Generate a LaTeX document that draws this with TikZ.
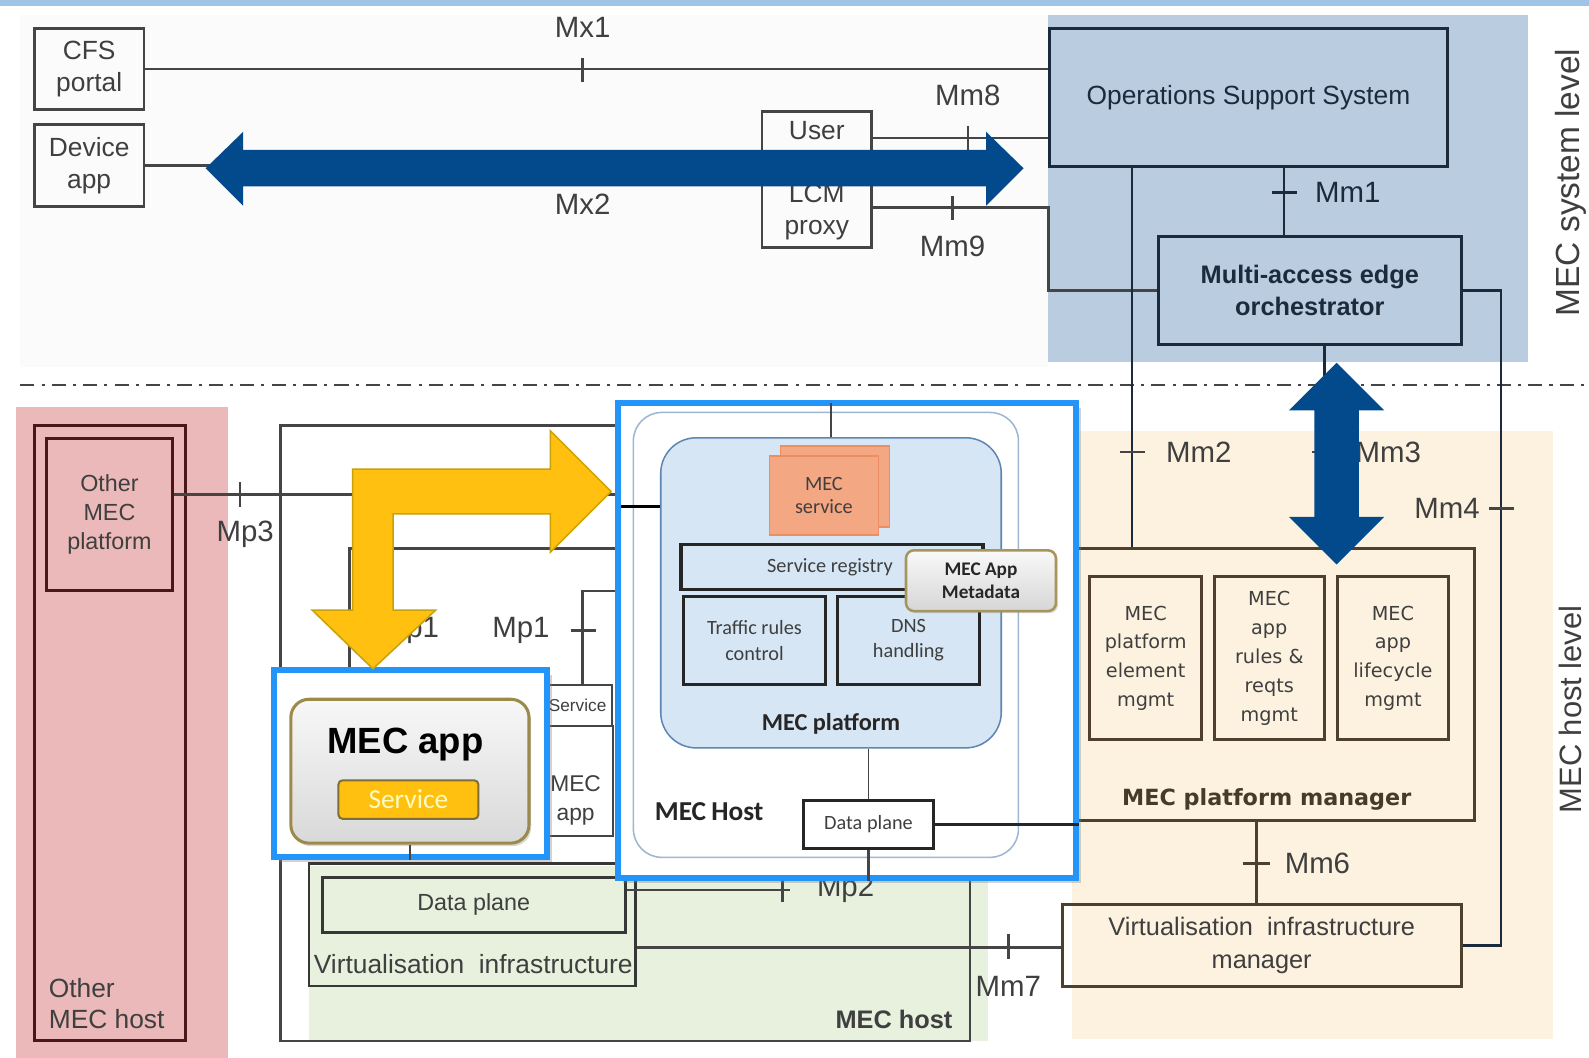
\documentclass[tikz,border=0pt]{standalone}
\usepackage{fontspec}
\setmainfont{Liberation Sans}
\newfontfamily\carl{Carlito}
\newfontfamily\dejavu{DejaVu Sans}
\usetikzlibrary{shadows}
\definecolor{txt}{HTML}{3F3F3F}
\definecolor{ln}{HTML}{454545}
\definecolor{navy}{HTML}{1C2B3B}
\definecolor{sysbg}{HTML}{B9CCE0}
\definecolor{pinkbg}{HTML}{EBB9BA}
\definecolor{greenbg}{HTML}{E7F1DE}
\definecolor{beigebg}{HTML}{FDF2DF}
\definecolor{arrowblue}{HTML}{024A8C}
\definecolor{hlblue}{HTML}{2394F8}
\definecolor{yel}{HTML}{FFC00F}
\definecolor{yeld}{HTML}{C9A10A}
\definecolor{platbg}{HTML}{D6E6F5}
\definecolor{platln}{HTML}{5E86B2}
\definecolor{salmon}{HTML}{F4A783}
\definecolor{salmond}{HTML}{EC8D62}
\definecolor{maroonc}{HTML}{4A1618}
\definecolor{brn}{HTML}{4E402C}
\definecolor{stripe}{HTML}{9EC5E8}
\definecolor{khaki}{HTML}{9C8A4A}
\newcommand\fsz[2]{\fontsize{#1}{#2}\selectfont}
\tikzset{
  tbox/.style={draw=ln, line width=2.5pt, inner sep=0pt, align=center, text=txt, font=\fsz{26}{32}},
  nbox/.style={draw=navy, line width=3pt, fill=sysbg, inner sep=0pt, align=center, text=navy},
  lab/.style={text=txt, inner sep=0pt, align=center, font=\fsz{29}{32}},
  link/.style={draw=ln, line width=2.5pt},
  nlink/.style={draw=navy, line width=2.5pt},
  tick/.style={draw=ln, line width=2.5pt},
  bbox/.style={draw=brn, line width=3pt, inner sep=0pt, align=center, text=txt},
  hl/.style={draw=hlblue, line width=6pt, fill=white, inner sep=0pt,
    drop shadow={opacity=0.35, shadow xshift=5pt, shadow yshift=-5pt}},
  dbox/.style={draw=black!85, line width=3pt, inner sep=0pt, align=center, text=txt, font=\carl\fsz{20}{25}},
  bigarrow/.style={fill=arrowblue, draw=none},
}
\begin{document}
\begin{tikzpicture}[x=1pt,y=-1pt]
\useasboundingbox (0,0) rectangle (1568,1044);
\fill[white] (0,0) rectangle (1568,1044);
\fill[stripe] (0,0) rectangle (1568,6);
\fill[gray!3] (20,15) rectangle (1034,362);
% shaded regions
\fill[sysbg] (1034,15) rectangle (1508,357);
\fill[pinkbg] (16,402) rectangle (225,1044);
\fill[beigebg] (1058,425) rectangle (1532,1025);
\fill[greenbg] (305,855) rectangle (975,1027);
% level separator
\draw[ln, line width=2.5pt, dash pattern=on 14pt off 7pt on 3pt off 7pt] (20,380) -- (1568,380);
\node[lab, rotate=90, font=\fsz{33}{36}] (syslvl) at (1550,180) {MEC system level};
\node[lab, rotate=90, font=\fsz{30.5}{34}] (hostlvl) at (1550,700) {MEC host level};

% ===== system level =====
\node[tbox, minimum width=108, minimum height=80] (cfs) at (88,68) {CFS\\portal};
\node[tbox, minimum width=108, minimum height=81] (dev) at (88,163.5) {Device\\app};
\node[tbox, minimum width=108, minimum height=134] (usr) at (806,177) {};
\node[lab, font=\fsz{26}{32}] (usrt) at (806,129) {User};
\node[lab, font=\fsz{26}{32}] (lcmt) at (806,209) {LCM\\proxy};
\node[nbox, minimum width=392, minimum height=136, font=\fsz{26}{30}] (oss) at (1232,96) {Operations Support System};
\node[nbox, minimum width=299, minimum height=107, font=\bfseries\fsz{25}{31}] (meo) at (1292.5,286.5) {Multi-access edge\\orchestrator};

\draw[link] (cfs.east) -- (cfs.east -| oss.west);
\draw[tick] (575,57) -- (575,81);
\node[lab] (mx1) at (575,27) {Mx1};
\draw[link] (dev.east) -- (dev.east -| usr.west);
\node[lab] (mx2) at (575,202) {Mx2};
\draw[link] (usr.east |- 0,136) -- (oss.west |- 0,136);
\draw[tick] (955,124) -- (955,148);
\node[lab] (mm8) at (955,94) {Mm8};
\draw[link] (usr.east |- 0,205) -- (oss.west |- 0,205) |- (meo.west);
\draw[tick] (940,193) -- (940,217);
\node[lab] (mm9) at (940,243) {Mm9};
\draw[nlink] (oss.south -| 1267,0) -- (meo.north -| 1267,0);
\draw[nlink] (1255,190) -- (1280,190);
\node[lab, text=navy] (mm1) at (1330,190) {Mm1};

% ===== host level: right side =====
\node[bbox, minimum width=393, minimum height=269] (mgr) at (1258.5,675.5) {};
\node[text=brn!90!black, font=\dejavu\bfseries\fsz{22}{26}, inner sep=0pt] (mgrt) at (1250,789) {MEC platform manager};
\node[bbox, minimum width=111, minimum height=161, font=\dejavu\fsz{19}{28.5}] (b1) at (1130.5,649.5) {MEC\\platform\\element\\mgmt};
\node[bbox, minimum width=109, minimum height=161, font=\dejavu\fsz{19}{28.5}] (b2) at (1252.5,649.5) {MEC\\app\\rules \&\\reqts\\mgmt};
\node[bbox, minimum width=109, minimum height=161, font=\dejavu\fsz{19}{28.5}] (b3) at (1374.5,649.5) {MEC\\app\\lifecycle\\mgmt};
\node[bbox, minimum width=394, minimum height=80, font=\fsz{25}{33}] (vim) at (1245,933) {Virtualisation\ \ infrastructure\\manager};

\draw[nlink] (oss.south -| 1117,0) -- (mgr.north -| 1117,0);
\draw[tick] (1105,446) -- (1130,446);
\node[lab] (mm2) at (1183,446) {Mm2};
\draw[nlink] (meo.south -| 1307,0) -- (mgr.north -| 1307,0);
\draw[tick] (1295,446) -- (1320,446);
\node[lab] (mm3) at (1370,446) {Mm3};
\draw[nlink] (meo.east) -- (meo.east -| 1481,0) |- (vim.east);
\draw[tick] (1469,502) -- (1494,502);
\node[lab] (mm4) at (1428,502) {Mm4};
\draw[draw=brn, line width=3pt] (mgr.south -| 1240,0) -- (vim.north -| 1240,0);
\draw[draw=brn, line width=3pt] (1227,852) -- (1253,852);
\node[lab] (mm6) at (1300,852) {Mm6};

% ===== other MEC host =====
\node[draw=maroonc, line width=3pt, minimum width=149, minimum height=607, inner sep=0pt] (omh) at (108.5,723.5) {};
\node[lab, anchor=west, align=left, font=\fsz{26}{31}] (omht) at (48,990.5) {Other\\MEC host};
\node[draw=maroonc, line width=3pt, minimum width=124, minimum height=150, inner sep=0pt, align=center, text=txt, font=\fsz{23}{28.5}] (omp) at (108,508) {Other\\MEC\\platform};

% ===== MEC host =====
\node[draw=ln, line width=2.5pt, minimum width=680, minimum height=607, inner sep=0pt] (host) at (617,723.5) {};
\node[lab, anchor=east, font=\bfseries\fsz{25}{28}] (hostt) at (940,1006) {MEC host};
\draw[link] (omp.east |- 0,488) -- (612,488);
\draw[tick] (237,476) -- (237,500);
\node[lab] (mp3) at (242,527) {Mp3};
\draw[link] (345,665) -- (345,541) -- (612,541);
\node[draw=ln, line width=2pt, minimum width=225, minimum height=109, inner sep=0pt] (app0) at (492.5,770.5) {};
\node[lab, font=\fsz{22.5}{29}] (app0t) at (568,790) {MEC\\app};
\node[draw=ln, line width=2pt, fill=white, minimum width=68, minimum height=40, inner sep=0pt, font=\fsz{17}{20}, text=txt] (svc) at (570,696) {Service};
\draw[link] (612,583) -- (575,583) -- (svc.north -| 575,0);
\draw[tick] (563,622) -- (588,622);
\node[lab] (mp1b) at (514,622) {Mp1};
\node[lab] (mp1a) at (405,622) {Mp1};

\node[draw=ln!80!black, line width=2.5pt, minimum width=322, minimum height=121, inner sep=0pt] (vi) at (466,912.5) {};
\node[lab, font=\fsz{26}{30}] (vit) at (467,951) {Virtualisation\ \ infrastructure};
\node[draw=ln!80!black, line width=2.5pt, fill=greenbg, minimum width=299, minimum height=54, inner sep=0pt, font=\fsz{23}{26}, text=txt] (dp) at (467.5,893) {Data plane};
\draw[link] (dp.east |- 0,878) -- (780,878);
\draw[tick] (772,866) -- (772,890);
\node[lab, anchor=west] (mp2) at (806,878) {Mp2};
\draw[link] (vi.east |- 0,935) -- (vim.west |- 0,935);
\draw[tick] (995,922) -- (995,946);
\node[lab] (mm7) at (995,973) {Mm7};

% ===== highlighted MEC host / platform =====
\node[hl, minimum width=452, minimum height=468] (bighl) at (836,632) {};
\node[draw=platln!60, line width=1.5pt, rounded corners=28, minimum width=380, minimum height=439, inner sep=0pt] (hostr) at (815,626.5) {};
\node[fill=platbg, draw=platln, line width=1.5pt, rounded corners=35, minimum width=336, minimum height=306, inner sep=0pt] (plat) at (820,585) {};
\draw[ln, line width=1.5pt] (bighl.north -| 820,0) ++(0,3) -- (plat.north -| 820,0);
\draw[black, line width=3pt] (613,500) -- (plat.west |- 0,500);
\node[fill=salmon, draw=salmond, line width=1.2pt, minimum width=108, minimum height=80, inner sep=0pt] (msvcb) at (824,480) {};
\node[fill=salmon, draw=salmond, line width=1.2pt, minimum width=108, minimum height=78, inner sep=0pt, align=center, text=txt, font=\carl\fsz{20}{23}] (msvc) at (813,489) {MEC\\service};
\node[dbox, fill=platbg, minimum width=298, minimum height=45] (sreg) at (821,559.5) {\hspace*{-4pt}Service registry};
\node[dbox, fill=platbg, minimum width=141, minimum height=86] (traf) at (744.5,632) {Traffic rules\\control};
\node[dbox, fill=platbg, minimum width=141, minimum height=86] (dns) at (896.5,632) {DNS\\handling};
\node[draw=khaki!90, line width=2.5pt, rounded corners=8, top color=gray!5, bottom color=gray!32, minimum width=148, minimum height=60, inner sep=0pt, align=center, text=black!85, font=\carl\bfseries\fsz{19}{23}, drop shadow={opacity=0.3, shadow xshift=2pt, shadow yshift=-2pt}] (meta) at (968,573) {MEC App\\Metadata};
\node[inner sep=0pt, text=black!85, font=\carl\bfseries\fsz{24}{28}] (platt) at (820,714) {MEC platform};
\node[dbox, fill=white, minimum width=128, minimum height=47, font=\carl\fsz{20}{24}] (dps) at (857,813.5) {Data plane};
\node[inner sep=0pt, anchor=west, text=black!85, font=\carl\bfseries\fsz{27}{30}] (hostrt) at (646,801) {MEC\hspace{-1pt} Host};
\draw[ln, line width=1.5pt] (plat.south -| dps.north) -- (dps.north);
\draw[black!85, line width=3pt] (dps.east) -- (bighl.east |- dps.east);
\draw[ln, line width=2pt] (dps.south) -- (bighl.south -| dps.south);

% ===== highlighted MEC app =====
\node[hl, minimum width=270, minimum height=185] (apphl) at (405,753.5) {};
\node[draw=khaki, line width=3pt, rounded corners=18, top color=gray!6, bottom color=gray!30, minimum width=235, minimum height=142, inner sep=0pt, drop shadow={opacity=0.3, shadow xshift=2pt, shadow yshift=-3pt}] (appin) at (404.5,761) {};
\node[inner sep=0pt, text=black, font=\bfseries\fsz{36}{40}] (appt) at (400,735) {MEC app};
\node[fill=yel, draw=khaki!80!black, line width=2pt, rounded corners=4, minimum width=138, minimum height=38, inner sep=0pt, text=yellow!25, font=\carl\fsz{27}{28}] (svcy) at (403,789) {Service};
\draw[ln, line width=2pt] (appin.south -| 405,0) -- (apphl.south -| 405,0);

% ===== yellow L arrow =====
\draw[fill=yel, draw=yeld, line width=1.5pt, line join=miter]
  (348,463) -- (543,463) -- (543,425) -- (603,485) -- (543,545) -- (543,507)
  -- (388,507) -- (388,602) -- (430,602) -- (368,660) -- (308,602) -- (348,602) -- cycle;

% ===== blue double arrows =====
\fill[bigarrow] (203,166) -- (240,130) -- (240,148) -- (973,148) -- (973,130) -- (1010,166)
  -- (973,203) -- (973,184) -- (240,184) -- (240,203) -- cycle;
\fill[bigarrow] (1319,358) -- (1366,405) -- (1341,405) -- (1341,510) -- (1366,510) -- (1319,557)
  -- (1272,510) -- (1297,510) -- (1297,405) -- (1272,405) -- cycle;
\end{tikzpicture}
\end{document}
